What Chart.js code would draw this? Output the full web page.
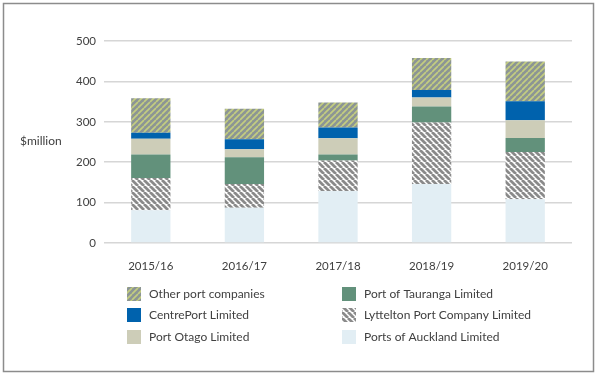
<!DOCTYPE html>
<html>
<head>
<meta charset="utf-8">
<script src="https://cdn.jsdelivr.net/npm/chart.js@4"></script>
<style>
  html, body { margin: 0; padding: 0; background: #fff; }
  #wrap { width: 600px; height: 377px; position: relative; }
</style>
</head>
<body>
<div id="wrap"><canvas id="portsChart" width="600" height="377"></canvas></div>
<script>
// Años
const years = ['2015/16', '2016/17', '2017/18', '2018/19', '2019/20'];

// Valores por empresa ($ millones), de abajo hacia arriba en la pila
const aucklandData = [81, 87, 129, 146, 108];
const lytteltonData = [80, 59, 75, 152, 117];
const taurangaData = [58, 66, 15, 40, 35];
const otagoData = [39, 20, 40, 22, 44];
const centrePortData = [15, 25, 27, 19, 47];
const otherData = [85, 75, 62, 79, 98];

const yTicks = [0, 100, 200, 300, 400, 500];

const FONT = 'Lato, "Liberation Sans", sans-serif';
const TEXT = '#404040';

// Rayas diagonales
function stripes(bg, fg, size, lw, forward) {
    const c = document.createElement('canvas');
    c.width = size; c.height = size;
    const g = c.getContext('2d');
    g.fillStyle = bg;
    g.fillRect(0, 0, size, size);
    g.strokeStyle = fg;
    g.lineWidth = lw;
    g.beginPath();
    if (forward) {
        for (let k = -1; k <= 1; k++) {
            g.moveTo(k * size, size);
            g.lineTo(k * size + size, 0);
        }
    } else {
        for (let k = -1; k <= 1; k++) {
            g.moveTo(k * size, 0);
            g.lineTo(k * size + size, size);
        }
    }
    g.stroke();
    return g.createPattern(c, 'repeat');
}

const otherFill = stripes('#8c9594', '#c3cd80', 6, 1.7, true);
const lytteltonFill = stripes('#ffffff', '#8a8a8a', 6, 2.8, false);

// Leyenda en dos columnas
const legendLayout = [
    { ds: 5, x: 127, y: 294 },
    { ds: 4, x: 127, y: 315 },
    { ds: 3, x: 127, y: 337 },
    { ds: 2, x: 342, y: 294 },
    { ds: 1, x: 342, y: 315 },
    { ds: 0, x: 342, y: 337 }
];

const extras = {
    id: 'extras',
    afterDraw(chart) {
        const ctx = chart.ctx;
        ctx.save();
        // marco
        ctx.strokeStyle = '#8c8c8c';
        ctx.lineWidth = 1.5;
        ctx.strokeRect(3.5, 3.5, 590, 368);
        // etiqueta del eje
        ctx.fillStyle = TEXT;
        ctx.font = '12px ' + FONT;
        ctx.textBaseline = 'middle';
        ctx.textAlign = 'left';
        ctx.fillText('$million', 20, 141);
        // leyenda
        legendLayout.forEach(item => {
            const ds = chart.data.datasets[item.ds];
            ctx.fillStyle = ds.backgroundColor;
            ctx.fillRect(item.x, item.y - 7, 14, 14);
            ctx.fillStyle = TEXT;
            ctx.fillText(ds.label, item.x + 22, item.y);
        });
        ctx.restore();
    }
};

const ctx = document.getElementById('portsChart').getContext('2d');
new Chart(ctx, {
    type: 'bar',
    data: {
        labels: years,
        datasets: [
            { label: 'Ports of Auckland Limited', data: aucklandData, backgroundColor: '#e2eef4' },
            { label: 'Lyttelton Port Company Limited', data: lytteltonData, backgroundColor: lytteltonFill },
            { label: 'Port of Tauranga Limited', data: taurangaData, backgroundColor: '#62917b' },
            { label: 'Port Otago Limited', data: otagoData, backgroundColor: '#cdcdb8' },
            { label: 'CentrePort Limited', data: centrePortData, backgroundColor: '#0062ad' },
            { label: 'Other port companies', data: otherData, backgroundColor: otherFill }
        ]
    },
    options: {
        responsive: false,
        animation: false,
        layout: { padding: { left: 0, right: 28, top: 41, bottom: 0 } },
        datasets: { bar: { categoryPercentage: 1, barPercentage: 0.42, borderWidth: 0 } },
        plugins: {
            legend: { display: false },
            tooltip: { enabled: false }
        },
        scales: {
            x: {
                stacked: true,
                grid: { display: false },
                border: { display: false },
                ticks: { color: TEXT, font: { family: FONT, size: 11.5 }, padding: 8 },
                afterFit(s) { s.height = 134; }
            },
            y: {
                stacked: true,
                min: 0,
                max: 500,
                afterBuildTicks(s) { s.ticks = yTicks.map(v => ({ value: v })); },
                grid: { color: '#d6d6d6', lineWidth: 1.5, drawTicks: false },
                border: { display: false },
                ticks: { color: TEXT, font: { family: FONT, size: 11.5 }, padding: 8 },
                afterFit(s) { s.width = 104; }
            }
        }
    },
    plugins: [extras]
});
</script>
</body>
</html>
